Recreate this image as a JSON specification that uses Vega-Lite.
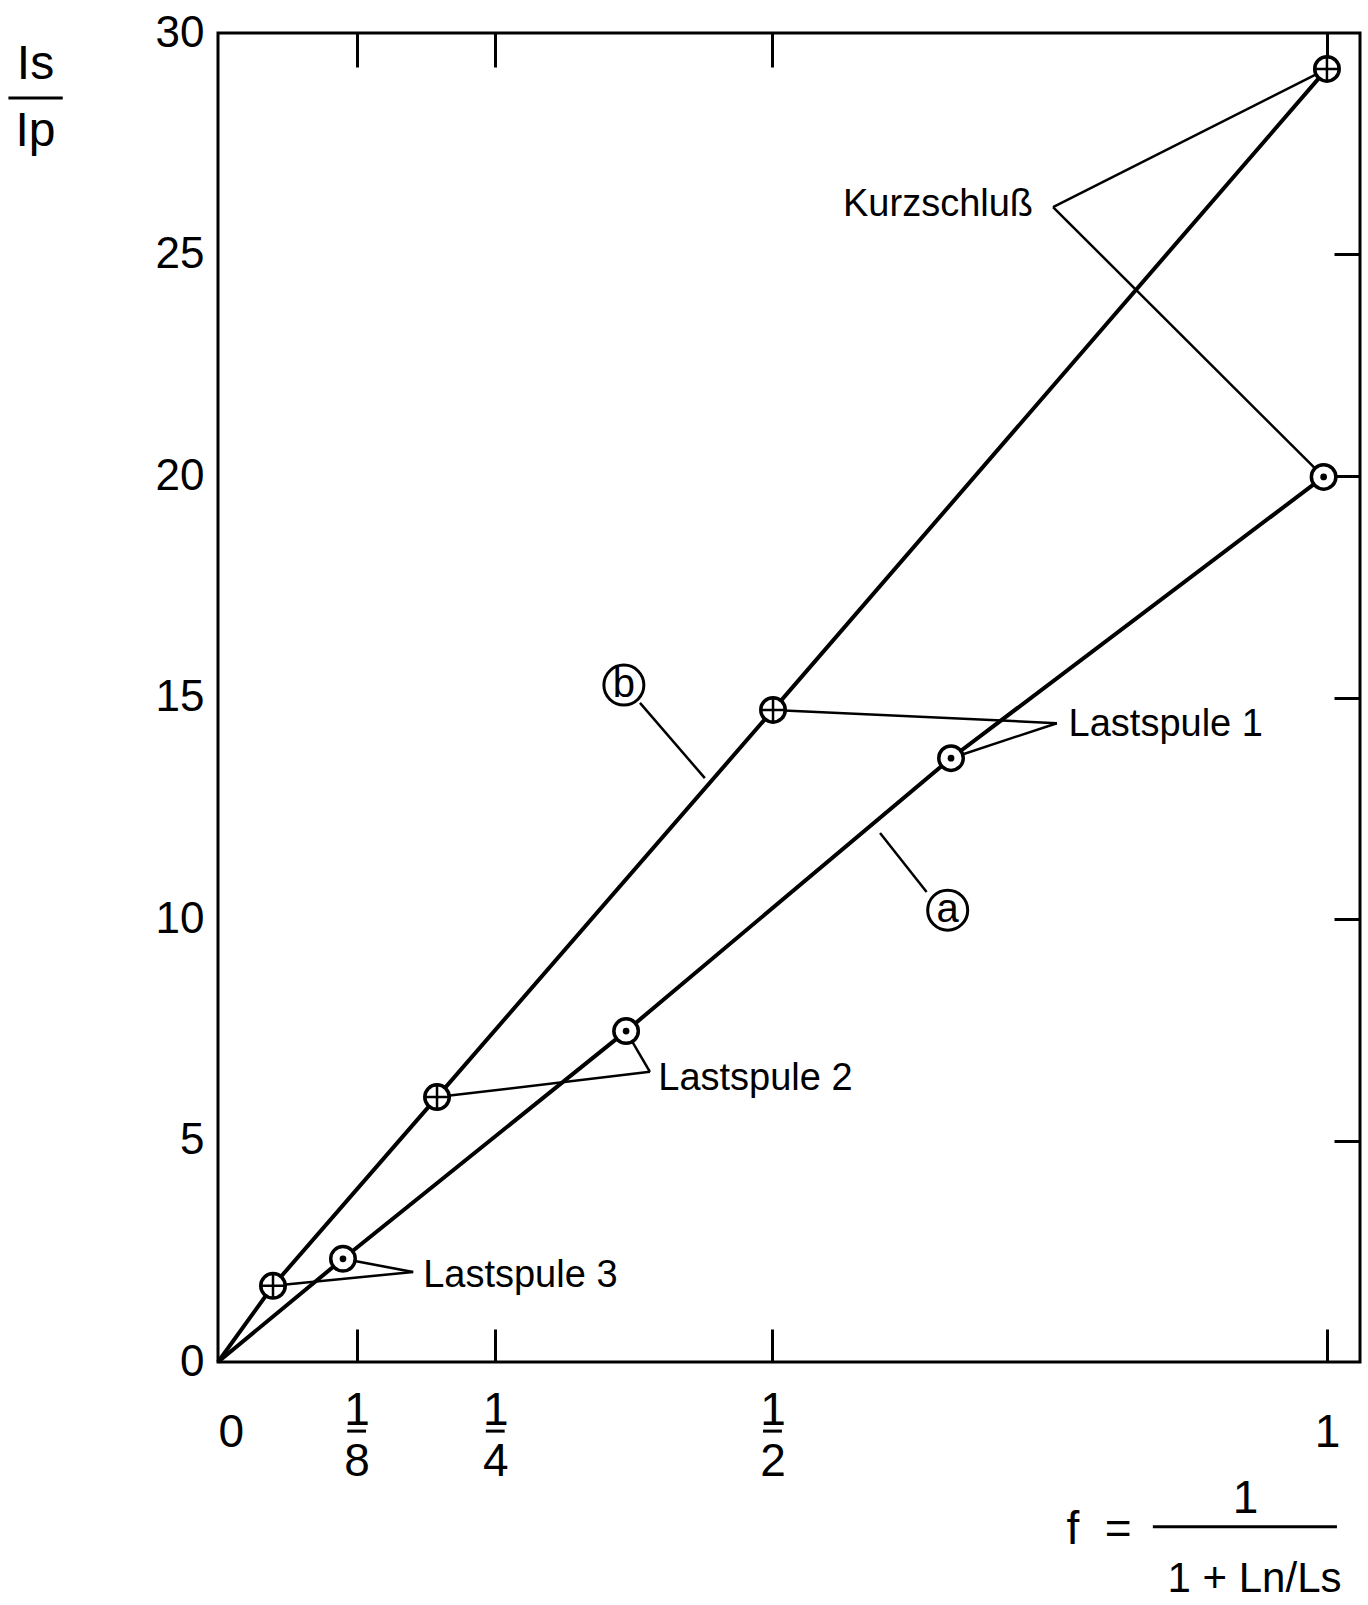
{
  "$schema": "https://vega.github.io/schema/vega-lite/v6.json",
  "width": 1142,
  "height": 1329,
  "autosize": {"type": "none"},
  "padding": {"left": 218, "top": 33, "right": 8, "bottom": 243},
  "background": "white",
  "config": {
    "view": {"stroke": "black", "strokeWidth": 3},
    "font": "Liberation Sans",
    "axis": {
      "grid": false, "domain": false, "labelColor": "black", "titleColor": "black",
      "tickColor": "black", "labelFont": "Liberation Sans", "titleFont": "Liberation Sans",
      "titleFontWeight": "normal", "labelOverlap": false
    }
  },
  "resolve": {"axis": {"x": "independent", "y": "independent"}},
  "layer": [
    {
      "data": {"values": [
        {"series": "b", "f": 0, "r": 0},
        {"series": "b", "f": 0.0496, "r": 1.72},
        {"series": "b", "f": 0.1975, "r": 5.98},
        {"series": "b", "f": 0.5005, "r": 14.72},
        {"series": "b", "f": 1.0, "r": 29.19},
        {"series": "a", "f": 0, "r": 0},
        {"series": "a", "f": 0.1127, "r": 2.33},
        {"series": "a", "f": 0.368, "r": 7.47},
        {"series": "a", "f": 0.661, "r": 13.63},
        {"series": "a", "f": 0.997, "r": 19.98}
      ]},
      "mark": {"type": "line", "stroke": "black", "strokeWidth": 4},
      "encoding": {
        "x": {"field": "f", "type": "quantitative", "scale": {"domain": [0, 1.0298], "nice": false, "zero": false},
          "axis": {
            "orient": "bottom", "values": [0, 0.125, 0.25, 0.5, 1], "ticks": false, "tickSize": 0,
            "labelExpr": "datum.value == 0 ? '0' : datum.value == 1 ? '1' : datum.value == 0.125 ? ['1','8'] : datum.value == 0.25 ? ['1','4'] : ['1','2']",
            "labelFontSize": 46,
            "labelBaseline": {"condition": {"test": "datum.value == 0 || datum.value == 1", "value": "top"}, "value": "middle"},
            "labelLineHeight": 51, "labelPadding": 48.2, "labelFlush": true,
            "title": "1", "titleFontSize": 46, "titleX": 1027, "titleY": 150, "titleAlign": "center",
            "titleBaseline": "alphabetic", "titleAngle": 0
          }},
        "y": {"field": "r", "type": "quantitative", "scale": {"domain": [0, 30], "nice": false},
          "axis": {
            "orient": "left", "values": [0, 5, 10, 15, 20, 25, 30], "ticks": false, "tickSize": 0,
            "labelFontSize": 44, "labelPadding": 14, "labelFlush": false, "labelBaseline": "middle",
            "title": ["Is", "Ip"], "titleFontSize": 48, "titleX": -183, "titleY": 45, "titleAlign": "center",
            "titleBaseline": "alphabetic", "titleLineHeight": 67, "titleAngle": 0
          }},
        "detail": {"field": "series"}
      }
    },
    {
      "data": {"values": [
        {"x": 0.753, "y": 26.07, "x2": 1.0, "y2": 29.19},
        {"x": 0.753, "y": 26.07, "x2": 0.997, "y2": 19.98},
        {"x": 0.7565, "y": 14.42, "x2": 0.5005, "y2": 14.72},
        {"x": 0.7565, "y": 14.42, "x2": 0.661, "y2": 13.63},
        {"x": 0.3895, "y": 6.55, "x2": 0.1975, "y2": 5.98},
        {"x": 0.3895, "y": 6.55, "x2": 0.368, "y2": 7.47},
        {"x": 0.176, "y": 2.03, "x2": 0.0496, "y2": 1.72},
        {"x": 0.176, "y": 2.03, "x2": 0.1127, "y2": 2.33},
        {"x": 0.3805, "y": 14.88, "x2": 0.439, "y2": 13.18},
        {"x": 0.597, "y": 11.94, "x2": 0.639, "y2": 10.61}
      ]},
      "mark": {"type": "rule", "stroke": "black", "strokeWidth": 2.5},
      "encoding": {
        "x": {"field": "x", "type": "quantitative", "scale": {"domain": [0, 1.0298], "nice": false, "zero": false},
          "axis": {
            "orient": "bottom", "values": [0.125, 0.25, 0.5, 1], "ticks": true, "tickSize": -33, "tickWidth": 3,
            "labels": false,
            "title": "f\u00a0\u00a0=", "titleFontSize": 46, "titleX": 848, "titleY": 181, "titleAlign": "left",
            "titleBaseline": "alphabetic", "titleAngle": 0
          }},
        "y": {"field": "y", "type": "quantitative", "scale": {"domain": [0, 30], "nice": false},
          "axis": {
            "orient": "right", "values": [5, 10, 15, 20, 25], "ticks": true, "tickSize": -26, "tickWidth": 3, "labels": false,
            "title": null
          }},
        "x2": {"field": "x2"},
        "y2": {"field": "y2"}
      }
    },
    {
      "data": {"values": [
        {"part": "Is/Ip bar", "x": -0.189, "x2": -0.140, "y": 28.53},
        {"part": "1/8 bar", "x": 0.1165, "x2": 0.1335, "y": -1.56},
        {"part": "1/4 bar", "x": 0.2415, "x2": 0.2585, "y": -1.56},
        {"part": "1/2 bar", "x": 0.4915, "x2": 0.5085, "y": -1.56},
        {"part": "f bar", "x": 0.843, "x2": 1.009, "y": -3.72}
      ]},
      "mark": {"type": "rule", "stroke": "black", "strokeWidth": 3, "clip": false},
      "encoding": {
        "x": {"field": "x", "type": "quantitative", "scale": {"domain": [0, 1.0298], "nice": false, "zero": false}, "axis": null},
        "x2": {"field": "x2"},
        "y": {"field": "y", "type": "quantitative", "scale": {"domain": [0, 30], "nice": false}, "axis": null}
      }
    },
    {
      "data": {"values": [
        {"series": "b", "marker": "plus", "f": 0.0496, "r": 1.72},
        {"series": "b", "marker": "plus", "f": 0.1975, "r": 5.98},
        {"series": "b", "marker": "plus", "f": 0.5005, "r": 14.72},
        {"series": "b", "marker": "plus", "f": 1.0, "r": 29.19},
        {"series": "a", "marker": "dot", "f": 0.1127, "r": 2.33},
        {"series": "a", "marker": "dot", "f": 0.368, "r": 7.47},
        {"series": "a", "marker": "dot", "f": 0.661, "r": 13.63},
        {"series": "a", "marker": "dot", "f": 0.997, "r": 19.98}
      ]},
      "mark": {"type": "point", "shape": "circle", "filled": true, "fill": "white", "stroke": "black", "strokeWidth": 3.5, "size": 600, "opacity": 1},
      "encoding": {
        "x": {"field": "f", "type": "quantitative", "scale": {"domain": [0, 1.0298], "nice": false, "zero": false},
          "axis": {
            "orient": "top", "values": [0.125, 0.25, 0.5, 1], "ticks": true, "tickSize": -34, "tickWidth": 3, "labels": false,
            "title": "1 + Ln/Ls", "titleFontSize": 42, "titleX": 1036, "titleY": 1558, "titleAlign": "center",
            "titleBaseline": "alphabetic", "titleAngle": 0
          }},
        "y": {"field": "r", "type": "quantitative", "scale": {"domain": [0, 30], "nice": false}, "axis": null}
      }
    },
    {
      "data": {"values": [
        {"marker": "plus", "f": 0.0496, "r": 1.72},
        {"marker": "plus", "f": 0.1975, "r": 5.98},
        {"marker": "plus", "f": 0.5005, "r": 14.72},
        {"marker": "plus", "f": 1.0, "r": 29.19}
      ]},
      "mark": {"type": "point", "shape": "M-1,0H1M0,-1V1", "filled": false, "stroke": "black", "strokeWidth": 2.5, "size": 600, "opacity": 1},
      "encoding": {
        "x": {"field": "f", "type": "quantitative", "scale": {"domain": [0, 1.0298], "nice": false, "zero": false}, "axis": null},
        "y": {"field": "r", "type": "quantitative", "scale": {"domain": [0, 30], "nice": false}, "axis": null}
      }
    },
    {
      "data": {"values": [
        {"marker": "dot", "f": 0.1127, "r": 2.33},
        {"marker": "dot", "f": 0.368, "r": 7.47},
        {"marker": "dot", "f": 0.661, "r": 13.63},
        {"marker": "dot", "f": 0.997, "r": 19.98}
      ]},
      "mark": {"type": "point", "shape": "circle", "filled": true, "fill": "black", "strokeWidth": 0, "size": 45, "opacity": 1},
      "encoding": {
        "x": {"field": "f", "type": "quantitative", "scale": {"domain": [0, 1.0298], "nice": false, "zero": false}, "axis": null},
        "y": {"field": "r", "type": "quantitative", "scale": {"domain": [0, 30], "nice": false}, "axis": null}
      }
    },
    {
      "data": {"values": [
        {"x": 0.366, "y": 15.28, "t": "b"},
        {"x": 0.658, "y": 10.2, "t": "a"}
      ]},
      "mark": {"type": "point", "shape": "circle", "filled": true, "fill": "white", "stroke": "black", "strokeWidth": 3, "size": 1600, "opacity": 1},
      "encoding": {
        "x": {"field": "x", "type": "quantitative", "scale": {"domain": [0, 1.0298], "nice": false, "zero": false}, "axis": null},
        "y": {"field": "y", "type": "quantitative", "scale": {"domain": [0, 30], "nice": false}, "axis": null}
      }
    },
    {
      "data": {"values": [
        {"x": 0.366, "y": 15.28, "t": "b"},
        {"x": 0.658, "y": 10.2, "t": "a"}
      ]},
      "mark": {"type": "text", "align": "center", "baseline": "middle", "fontSize": 40, "font": "Liberation Sans", "color": "black"},
      "encoding": {
        "x": {"field": "x", "type": "quantitative", "scale": {"domain": [0, 1.0298], "nice": false, "zero": false}, "axis": null},
        "y": {"field": "y", "type": "quantitative", "scale": {"domain": [0, 30], "nice": false}, "axis": null},
        "text": {"field": "t"}
      }
    },
    {
      "data": {"values": [
        {"x": 0.5636, "y": 26.12, "t": "Kurzschluß"},
        {"x": 0.767, "y": 14.39, "t": "Lastspule 1"},
        {"x": 0.397, "y": 6.39, "t": "Lastspule 2"},
        {"x": 0.185, "y": 1.94, "t": "Lastspule 3"}
      ]},
      "mark": {"type": "text", "align": "left", "baseline": "middle", "fontSize": 38, "font": "Liberation Sans", "color": "black"},
      "encoding": {
        "x": {"field": "x", "type": "quantitative", "scale": {"domain": [0, 1.0298], "nice": false, "zero": false}, "axis": null},
        "y": {"field": "y", "type": "quantitative", "scale": {"domain": [0, 30], "nice": false}, "axis": null},
        "text": {"field": "t"}
      }
    }
  ]
}
